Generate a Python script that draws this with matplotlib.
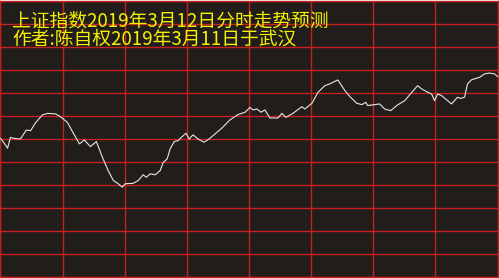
import matplotlib
matplotlib.use('Agg')
import matplotlib.pyplot as plt
import numpy as np

plt.rcParams['font.family'] = ['Noto Sans CJK SC', 'DejaVu Sans']

# minutes into the trading day (0-240) and the forecast level (in grid rows)
minutes = [0, 2.4, 3.4, 4.8, 6.3, 9.6, 12.5, 14.5, 16.9, 20.2, 22.7, 26.5, 28.9,
           32.3, 35.2, 38.1, 40.5, 43.4, 46.3, 49.2, 52.0, 54.5, 56.9, 58.8, 60.2,
           64.1, 66.5, 68.9, 70.4, 72.3, 74.7, 77.1, 78.6, 80.5, 81.9, 83.9, 85.8,
           87.7, 89.6, 91.1, 93.0, 95.4, 98.3, 100.7, 103.6, 107.0, 110.8, 114.7,
           118.1, 120.5, 121.9, 123.9, 125.8, 127.7, 130.1, 134.0, 135.9, 137.8,
           141.2, 145.5, 147.0, 150.4, 153.3, 156.6, 159.0, 162.9, 166.3, 168.7,
           172.0, 174.5, 176.4, 177.3, 179.8, 183.1, 185.5, 188.4, 191.8, 195.2,
           198.6, 201.4, 203.4, 205.8, 208.2, 209.6, 211.1, 213.0, 217.8, 220.7,
           222.2, 224.1, 225.5, 227.5, 231.3, 233.7, 236.1, 238.6, 240]
level = [6.03, 5.74, 5.60, 6.07, 6.03, 6.00, 6.39, 6.36, 6.70, 7.04, 7.11, 7.09, 6.97,
         6.72, 6.25, 5.79, 5.96, 5.67, 5.89, 5.21, 4.63, 4.20, 4.06, 3.91, 4.06,
         4.08, 4.20, 4.45, 4.34, 4.49, 4.45, 4.63, 4.99, 5.14, 5.57, 5.89, 5.93,
         6.10, 6.25, 6.00, 6.18, 6.00, 5.86, 6.00, 6.22, 6.48, 6.83, 7.06,
         7.16, 7.37, 7.26, 7.30, 7.16, 7.26, 6.91, 6.91, 7.11, 6.94,
         7.11, 7.40, 7.30, 7.55, 8.02, 8.31, 8.39, 8.56, 8.10, 7.84,
         7.55, 7.49, 7.59, 7.45, 7.48, 7.52, 7.30, 7.23, 7.48, 7.66,
         8.02, 8.31, 8.17, 8.05, 7.95, 7.66, 7.95, 7.88, 7.52, 7.81,
         7.76, 7.81, 8.39, 8.57, 8.67, 8.82, 8.86, 8.82, 8.71]

title_lines = ['上证指数2019年3月12日分时走势预测', '作者:陈自权2019年3月11日于武汉']

BG = '#211d1b'
GRID = '#c4221f'

fig = plt.figure(figsize=(4.99, 2.78), dpi=100, facecolor='white')
ax = fig.add_axes([0.001, 0.002, 0.996, 0.996])
ax.set_facecolor(BG)

ax.set_xlim(0, 240)
ax.set_ylim(0, 12)
ax.set_xticks(np.arange(0, 241, 30))
ax.set_yticks(np.arange(0, 13, 1))
ax.tick_params(length=0, labelbottom=False, labelleft=False)
ax.grid(True, color=GRID, linewidth=1.0)
for sp in ax.spines.values():
    sp.set_color(GRID)
    sp.set_linewidth(1.0)

ax.plot(minutes, level, color='#e6e6e6', linewidth=0.8, zorder=3)

# both header lines as one block so they sit tight like the original
ax.text(12 / 499, 1 - 30 / 278, '\n'.join(title_lines), transform=ax.transAxes,
        color='#f5f000', fontsize=13.5, va='center', ha='left', linespacing=0.82)

fig.savefig('out.png', dpi=100, facecolor=fig.get_facecolor())
